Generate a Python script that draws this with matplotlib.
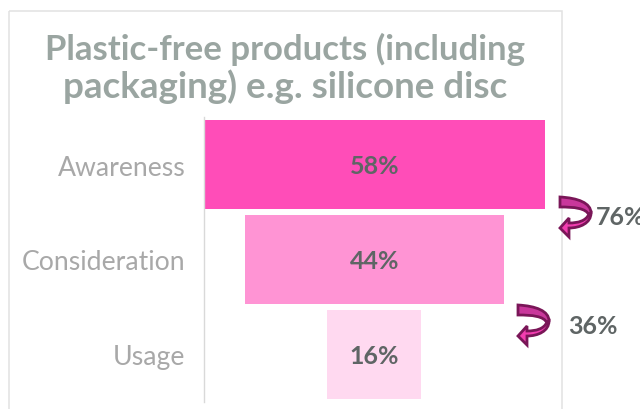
import matplotlib
matplotlib.use('Agg')
import matplotlib.pyplot as plt
from matplotlib.patches import PathPatch, Rectangle
from matplotlib.path import Path
from matplotlib.transforms import Affine2D

categories = ['Awareness', 'Consideration', 'Usage']
values = [58, 44, 16]
bar_colors = ['#FF4DB8', '#FF94D4', '#FFD9F0']
conversions = ['76%', '36%']

title_lines = ['Plastic-free products (including', 'packaging) e.g. silicone disc']

plt.rcParams['font.family'] = ['Lato', 'DejaVu Sans']

W, H = 640, 410
fig = plt.figure(figsize=(W / 100, H / 100), dpi=100, facecolor='white')

# overlay in pixel units for the frame, title and turn arrows
over = fig.add_axes([0, 0, 1, 1])
over.set_xlim(0, W)
over.set_ylim(H, 0)
over.axis('off')

over.add_patch(Rectangle((8.5, 11.5), 553.5, 410, fill=False, ec='#E2E2E2', lw=1.1))
over.text(285, 60, title_lines[0], ha='center', va='baseline', fontsize=25, fontweight='bold',
          color='#9AA5A1')
over.text(285, 98, title_lines[1], ha='center', va='baseline', fontsize=26.5, fontweight='bold',
          color='#9AA5A1')

# funnel bars, centred on zero
ax = fig.add_axes([203.5 / W, 1 - 403 / H, 341.5 / W, 285 / H])
ax.patch.set_alpha(0)
y = range(len(values))
lefts = [-v / 2 for v in values]
ax.barh(y, values, left=lefts, height=0.945, color=bar_colors)
ax.set_xlim(-29, 29)
ax.set_ylim(2.5, -0.5)
ax.set_yticks(list(y), categories, fontsize=19.2, color='#A8A8A8')
ax.set_xticks([])
ax.tick_params(axis='y', length=0, pad=13)
for side in ['top', 'right', 'bottom']:
    ax.spines[side].set_visible(False)
ax.spines['left'].set_color('#D9D9D9')
ax.spines['left'].set_linewidth(1.0)

for i, v in enumerate(values):
    ax.text(0, i + 0.01, f'{v}%', ha='center', va='center', fontsize=18, fontweight='bold',
            color='#5F6565')


def turn_arrow(x0, y0):
    # upper band of the arrow, darker face
    top = [(0, 0), (18, 1), (31, 6), (31, 16), (29, 18), (26, 11), (14, 10), (0, 10), (0, 0)]
    top_codes = [Path.MOVETO, Path.CURVE4, Path.CURVE4, Path.CURVE4, Path.LINETO,
                 Path.CURVE4, Path.CURVE4, Path.CURVE4, Path.CLOSEPOLY]
    # lower band and head, brighter face
    low = [(31, 16), (31, 26), (20, 31), (9, 31), (9, 40), (0, 31), (9, 21), (9, 26),
           (18, 26), (26, 24), (29, 17), (31, 16)]
    low_codes = [Path.MOVETO, Path.CURVE4, Path.CURVE4, Path.CURVE4, Path.LINETO, Path.LINETO,
                 Path.LINETO, Path.LINETO, Path.CURVE4, Path.CURVE4, Path.CURVE4, Path.CLOSEPOLY]
    shift = Affine2D().translate(x0, y0) + over.transData
    over.add_patch(PathPatch(Path(top, top_codes), fc='#C9379B', ec='#7A1658', lw=2,
                             transform=shift, joinstyle='miter'))
    over.add_patch(PathPatch(Path(low, low_codes), fc='#F23DB0', ec='#7A1658', lw=2,
                             transform=shift, joinstyle='miter'))


turn_arrow(560, 198)
turn_arrow(518, 306)

over.text(596, 218, conversions[0], ha='left', va='center', fontsize=18, fontweight='bold',
          color='#5F6565')
over.text(568, 327, conversions[1], ha='left', va='center', fontsize=18, fontweight='bold',
          color='#5F6565')

fig.savefig('out.png', dpi=100)
